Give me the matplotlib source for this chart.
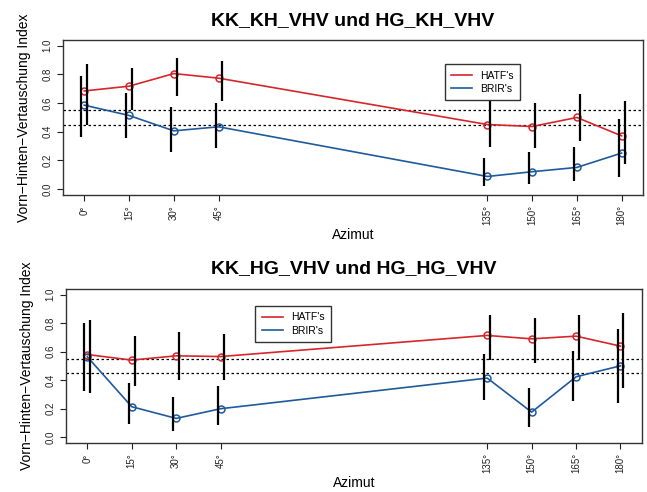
import numpy as np
import matplotlib.pyplot as plt

plt.rcParams['font.family'] = ['Liberation Sans', 'DejaVu Sans']

azimut = [0, 15, 30, 45, 135, 150, 165, 180]
tick_labels = ["0°", "15°", "30°", "45°", "135°", "150°", "165°", "180°"]

# panel 1: KK_KH_VHV und HG_KH_VHV
hatf_1 = [0.684, 0.717, 0.805, 0.773, 0.450, 0.436, 0.499, 0.371]
hatf_1_lo = [0.450, 0.552, 0.650, 0.613, 0.292, 0.283, 0.334, 0.172]
hatf_1_hi = [0.872, 0.847, 0.912, 0.891, 0.617, 0.601, 0.661, 0.615]
brir_1 = [0.585, 0.513, 0.406, 0.434, 0.088, 0.121, 0.151, 0.251]
brir_1_lo = [0.360, 0.355, 0.255, 0.283, 0.019, 0.037, 0.056, 0.086]
brir_1_hi = [0.789, 0.671, 0.571, 0.599, 0.218, 0.260, 0.295, 0.487]

# panel 2: KK_HG_VHV und HG_HG_VHV
hatf_2 = [0.579, 0.540, 0.570, 0.565, 0.713, 0.689, 0.708, 0.638]
hatf_2_lo = [0.311, 0.357, 0.400, 0.400, 0.540, 0.519, 0.540, 0.346]
hatf_2_hi = [0.822, 0.710, 0.736, 0.724, 0.853, 0.832, 0.857, 0.871]
brir_2 = [0.563, 0.213, 0.131, 0.199, 0.414, 0.175, 0.423, 0.500]
brir_2_lo = [0.320, 0.093, 0.042, 0.086, 0.257, 0.068, 0.255, 0.241]
brir_2_hi = [0.797, 0.381, 0.283, 0.360, 0.584, 0.343, 0.605, 0.759]

red = '#d7262b'
blue = '#1f5a9b'

fig = plt.figure(figsize=(6.47, 4.92), dpi=100)

panels = [
    ("KK_KH_VHV und HG_KH_VHV", [0.097, 0.604, 0.897, 0.315],
     hatf_1, hatf_1_lo, hatf_1_hi, brir_1, brir_1_lo, brir_1_hi, (119, 0.905)),
    ("KK_HG_VHV und HG_HG_VHV", [0.102, 0.100, 0.890, 0.313],
     hatf_2, hatf_2_lo, hatf_2_hi, brir_2, brir_2_lo, brir_2_hi, (55, 0.955)),
]

x = np.array(azimut)
for title, pos, h, hlo, hhi, b, blo, bhi, leg in panels:
    ax = fig.add_axes(pos)
    ax.axhline(0.55, color='black', ls=(0, (2, 2)), lw=0.9)
    ax.axhline(0.45, color='black', ls=(0, (2, 2)), lw=0.9)
    ax.plot(x, h, color=red, lw=1.2, label="HATF's")
    ax.plot(x, b, color=blue, lw=1.2, label="BRIR's")
    ax.plot(x, h, 'o', mfc='none', mec=red, ms=5, mew=1.1)
    ax.plot(x, b, 'o', mfc='none', mec=blue, ms=5, mew=1.1)
    ax.vlines(x + 1, hlo, hhi, color='black', lw=1.6)
    ax.vlines(x - 1, blo, bhi, color='black', lw=1.6)
    ax.set_xlim(-7.2, 187.2)
    ax.set_ylim(-0.04, 1.04)
    ax.set_xticks(azimut)
    ax.set_xticklabels(tick_labels, rotation=90, fontsize=7)
    ax.set_yticks([0.0, 0.2, 0.4, 0.6, 0.8, 1.0])
    ax.set_yticklabels(["0.0", "0.2", "0.4", "0.6", "0.8", "1.0"], rotation=90,
                       fontsize=7, va='center')
    ax.tick_params(length=4, width=0.8, colors='#222222')
    for s in ax.spines.values():
        s.set_color('#333333')
        s.set_linewidth(1.0)
    ax.set_title(title, fontsize=14, fontweight='bold', pad=11)
    ax.set_xlabel("Azimut", fontsize=10, labelpad=2)
    ax.set_ylabel("Vorn\u2212Hinten\u2212Vertauschung Index", fontsize=10, labelpad=8)
    lg = ax.legend(loc='upper left', bbox_to_anchor=leg, bbox_transform=ax.transData,
                   fontsize=7.5, fancybox=False, edgecolor='#333333', framealpha=1,
                   handlelength=2.0, borderpad=0.6, labelspacing=0.3)
    lg.get_frame().set_linewidth(1.0)

fig.savefig('out.png', dpi=100)
